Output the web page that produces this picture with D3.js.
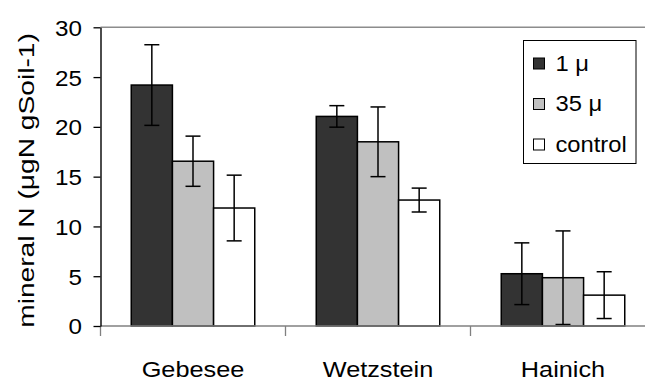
<!DOCTYPE html>
<html>
<head>
<meta charset="utf-8">
<script src="https://cdn.jsdelivr.net/npm/d3@7"></script>
<style>
  html, body { margin: 0; padding: 0; background: #fff; }
  svg { display: block; font-family: "Liberation Sans", Arial, sans-serif; }
</style>
</head>
<body>
<svg id="chart" width="645" height="381"></svg>
<script>
// Sites and treatments
const sites = ["Gebesee", "Wetzstein", "Hainich"];
const treatments = ["1 μ", "35 μ", "control"];

// Mean mineral N per site, one array per treatment
const values1u = [24.2, 21.05, 5.25];
const values35u = [16.55, 18.5, 4.85];
const valuesControl = [11.85, 12.65, 3.1];

// Error (± half range) per site, one array per treatment
const err1u = [4.05, 1.08, 3.1];
const err35u = [2.52, 3.5, 4.7];
const errControl = [3.3, 1.2, 2.35];

const yTicks = [0, 5, 10, 15, 20, 25, 30];
const fills = ["#333333", "#c0c0c0", "#ffffff"];

const fontSize = 22;

const seriesValues = [values1u, values35u, valuesControl];
const seriesErr = [err1u, err35u, errControl];

const rows = [];
sites.forEach((s, i) => {
  treatments.forEach((t, j) => {
    rows.push({ site: s, treatment: t, value: seriesValues[j][i], err: seriesErr[j][i], fill: fills[j] });
  });
});

const svg = d3.select("#chart");

// Text widened along its baseline by `stretch`
function label(parent, x, y, txt, anchor, stretch, rotate) {
  return parent.append("text")
    .attr("transform", `translate(${x},${y})` + (rotate ? ` rotate(${rotate})` : "") + ` scale(${stretch},1)`)
    .attr("text-anchor", anchor || "start")
    .attr("font-size", fontSize)
    .attr("fill", "#000")
    .text(txt);
}

const axisLeftX = 100.5;
const catWidth = 185;
const y = d3.scaleLinear().domain([0, 30]).range([326, 27.3]);
const x = d3.scaleBand().domain(sites).range([axisLeftX, axisLeftX + catWidth * sites.length]).padding(0);
const groupInset = 30.75;
const xInner = d3.scaleBand().domain(treatments).range([groupInset, catWidth - groupInset]).padding(0);

// Top border of plot area
svg.append("line")
  .attr("x1", axisLeftX).attr("x2", 645)
  .attr("y1", y(30)).attr("y2", y(30))
  .attr("stroke", "#8c8c8c").attr("stroke-width", 1.5);

// Bars
svg.append("g").selectAll("rect")
  .data(rows)
  .join("rect")
  .attr("x", d => x(d.site) + xInner(d.treatment))
  .attr("y", d => y(d.value))
  .attr("width", xInner.bandwidth())
  .attr("height", d => y(0) - y(d.value))
  .attr("fill", d => d.fill)
  .attr("stroke", "#000")
  .attr("stroke-width", 1.5);

// Error bars
const capHalf = 7.5;
const eb = svg.append("g").attr("stroke", "#000").attr("stroke-width", 1.5);
rows.forEach(d => {
  const cx = x(d.site) + xInner(d.treatment) + xInner.bandwidth() / 2;
  const yTop = y(d.value + d.err);
  const yBot = y(Math.max(0, d.value - d.err));
  eb.append("line").attr("x1", cx).attr("x2", cx).attr("y1", yTop).attr("y2", yBot);
  eb.append("line").attr("x1", cx - capHalf).attr("x2", cx + capHalf).attr("y1", yTop).attr("y2", yTop);
  eb.append("line").attr("x1", cx - capHalf).attr("x2", cx + capHalf).attr("y1", yBot).attr("y2", yBot);
});

// X axis (category axis with ticks between groups)
const xAxisG = svg.append("g").attr("transform", `translate(0,${y(0)})`);
xAxisG.append("line")
  .attr("x1", axisLeftX).attr("x2", 645).attr("y1", 0).attr("y2", 0)
  .attr("stroke", "#808080").attr("stroke-width", 1.5);
const boundaries = sites.map(s => x(s)).concat([x(sites[sites.length - 1]) + x.bandwidth()]);
xAxisG.selectAll("line.tick")
  .data(boundaries)
  .join("line")
  .attr("class", "tick")
  .attr("x1", d => d).attr("x2", d => d)
  .attr("y1", 0).attr("y2", 10)
  .attr("stroke", "#808080").attr("stroke-width", 1.3);
sites.forEach(s => label(xAxisG, x(s) + x.bandwidth() / 2, 50.5, s, "middle", 1.15));

// Y axis
const tickStretch = 1.1;
const yAxis = d3.axisLeft(y).tickValues(yTicks).tickSize(7).tickPadding(18.5).tickSizeOuter(0);
const yAxisG = svg.append("g")
  .attr("transform", `translate(${axisLeftX},0)`)
  .call(yAxis);
yAxisG.select(".domain").attr("stroke", "#000").attr("stroke-width", 1.4);
yAxisG.selectAll(".tick line").attr("stroke", "#000").attr("stroke-width", 1.3);
yAxisG.selectAll(".tick text")
  .attr("font-size", fontSize)
  .attr("font-family", "Liberation Sans, Arial, sans-serif")
  .attr("fill", "#000")
  .attr("x", -18.5 / tickStretch)
  .attr("dy", "0.36em")
  .attr("transform", `scale(${tickStretch},1)`);

// Y axis title
label(svg, 33.5, 180.5, "mineral N (μgN gSoil-1)", "middle", 1.28, -90);

// Legend
const legend = svg.append("g");
legend.append("rect")
  .attr("x", 523.5).attr("y", 40.5)
  .attr("width", 112.5).attr("height", 123)
  .attr("fill", "#fff").attr("stroke", "#000").attr("stroke-width", 1);
treatments.forEach((t, j) => {
  const cy = 63.5 + j * 40.5;
  legend.append("rect")
    .attr("x", 533.5).attr("y", cy - 5.5)
    .attr("width", 11).attr("height", 11)
    .attr("fill", fills[j]).attr("stroke", "#000").attr("stroke-width", 1);
  label(legend, 555.5, cy + 7, t, "start", 1.08);
});
</script>
</body>
</html>
